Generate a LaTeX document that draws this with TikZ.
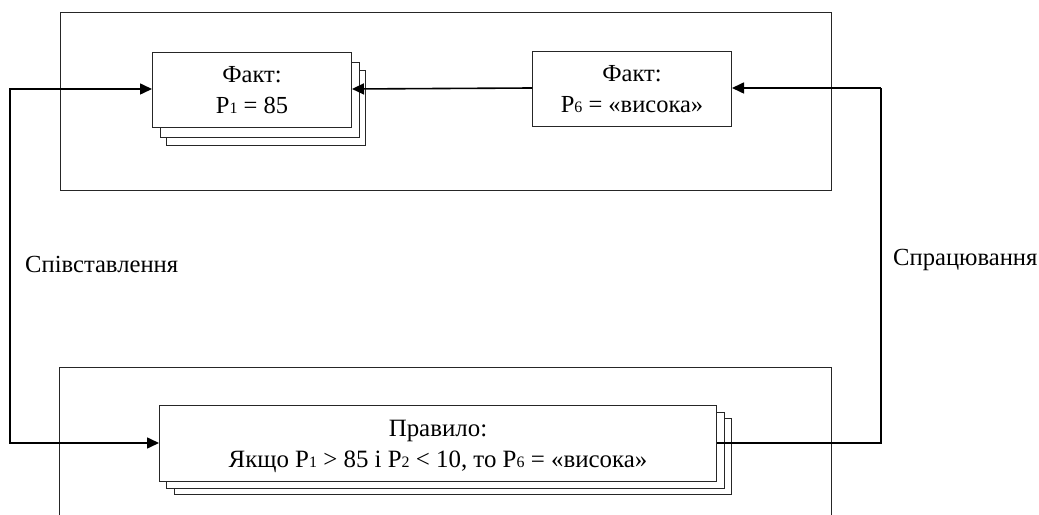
\documentclass[tikz,border=0pt]{standalone}
\usepackage{fontspec}
\setmainfont{Liberation Serif}
\usetikzlibrary{arrows.meta}
\newcommand{\sbn}[1]{\raisebox{-0.4pt}{\fontsize{16}{16}\selectfont #1}}
\tikzset{
  x=1bp,y=-1bp,
  framebox/.style={draw=black!85,line width=0.9bp},
  cardbox/.style={draw=black!85,fill=white,line width=1bp,minimum height=75bp,inner sep=0pt,anchor=north west,align=center,
    font=\fontsize{24.6}{31}\selectfont},
  cardtext/.style={inner sep=0pt,align=center,font=\fontsize{25}{31}\selectfont},
  wire/.style={draw=black,line width=1.6bp},
  thinwire/.style={draw=black,line width=1.2bp},
  wirearrow/.style={wire,-{Triangle[length=12bp,width=11bp]}},
  lbl/.style={inner sep=0pt,anchor=base west,font=\fontsize{24.7}{30}\selectfont},
}
\begin{document}
\begin{tikzpicture}
\useasboundingbox (0,0) rectangle (1039,515);
% outer frames
\node[framebox,minimum width=771.5bp,minimum height=177bp,inner sep=0pt,anchor=north west] (top) at (59.5,12.5) {};
\coordinate (blo) at (59.5,515);
\coordinate (bru) at (831,515);
\coordinate (blu) at (59.5,367.5);
\coordinate (bro) at (831,367.5);
\draw[framebox] (blo) -- (blu) -- (bro) -- (bru);
% stacks
\node[cardbox,minimum width=199bp] (f3) at (166,70) {};
\node[cardbox,minimum width=199bp] (f2) at (160,62) {};
\node[cardbox,minimum width=199bp] (f1) at (152,52) {Факт:\\P\sbn{1} = 85};
\node[cardbox,minimum width=199bp] (g1) at (532,51) {Факт:\\P\sbn{6} = «висока»};
\node[cardbox,minimum width=557bp,minimum height=76bp] (r3) at (174,418) {};
\node[cardbox,minimum width=558bp,minimum height=76bp] (r2) at (166,412) {};
\node[cardbox,minimum width=557bp,minimum height=76bp] (r1) at (159,405) {};
\node[cardtext,yshift=-3bp] (r1t) at (r1.center) {Правило:\\Якщо P\sbn{1} > 85 і P\sbn{2} < 10, то P\sbn{6} = «висока»};
% corners
\coordinate (la) at (10,89);
\coordinate (lb) at (10,443);
\coordinate (ra) at (881,443);
\coordinate (rb) at (881,88);
% connectors
\draw[wirearrow] (la) -- (f1.west |- la);
\draw[wire,line cap=rect] (la) -- (lb);
\draw[wirearrow] (lb) -- (r1.west |- lb);
\draw[wire,line join=miter] (r1.east |- ra) -- (ra) -- (rb);
\draw[wirearrow] (rb) -- (g1.east |- rb);
\draw[wirearrow] (g1.west |- rb) -- (f1.east |- la);
% labels
\node[lbl] (c1) at (25,273) {Співставлення};
\node[lbl] (c2) at (893,266) {Спрацювання};
\end{tikzpicture}
\end{document}
